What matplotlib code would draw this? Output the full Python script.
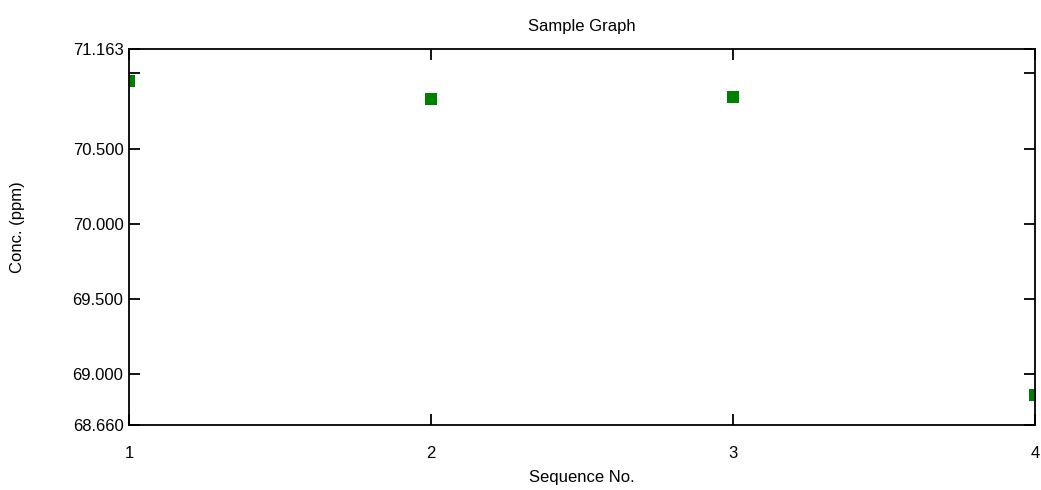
#!/usr/bin/env python3

import matplotlib
matplotlib.use('Agg')
import matplotlib.pyplot as plt

# measurement sequence and concentrations
seq_no = [1, 2, 3, 4]
conc_ppm = [70.952, 70.830, 70.845, 68.859]

y_min, y_max = 68.660, 71.163
y_ticks = [68.660, 69.0, 69.5, 70.0, 70.5, 71.0, 71.163]
y_tick_labels = ['68.660', '69.000', '69.500', '70.000', '70.500', '', '71.163']
x_ticks = [1, 2, 3, 4]

plt.rcParams['font.family'] = ['Liberation Sans', 'DejaVu Sans']

fig = plt.figure(figsize=(10.41, 4.90), dpi=100)
ax = fig.add_axes([129/1041, 65/490, 906/1041, 376/490])

ax.plot(seq_no, conc_ppm, 's', color='#008000', markersize=8.3, markeredgewidth=0)

ax.set_xlim(1, 4)
ax.set_ylim(y_min, y_max)
ax.set_xticks(x_ticks)
ax.set_xticklabels([str(v) for v in x_ticks])
ax.set_yticks(y_ticks)
ax.set_yticklabels(y_tick_labels)

for s in ax.spines.values():
    s.set_linewidth(1.3)
ax.tick_params(axis='both', direction='in', length=8, width=1.3, labelsize=12)
ax.tick_params(axis='x', top=True, pad=15)
ax.tick_params(axis='y', right=True, pad=4)

fig.text(582/1041, 1 - 27/490, 'Sample Graph', ha='center', va='center', fontsize=12)
fig.text(582/1041, 1 - 477/490, 'Sequence No.', ha='center', va='center', fontsize=12)
fig.text(18/1041, 1 - 227/490, 'Conc. (ppm)', ha='center', va='center', rotation=90, fontsize=12)

fig.savefig('out.png', dpi=100)
